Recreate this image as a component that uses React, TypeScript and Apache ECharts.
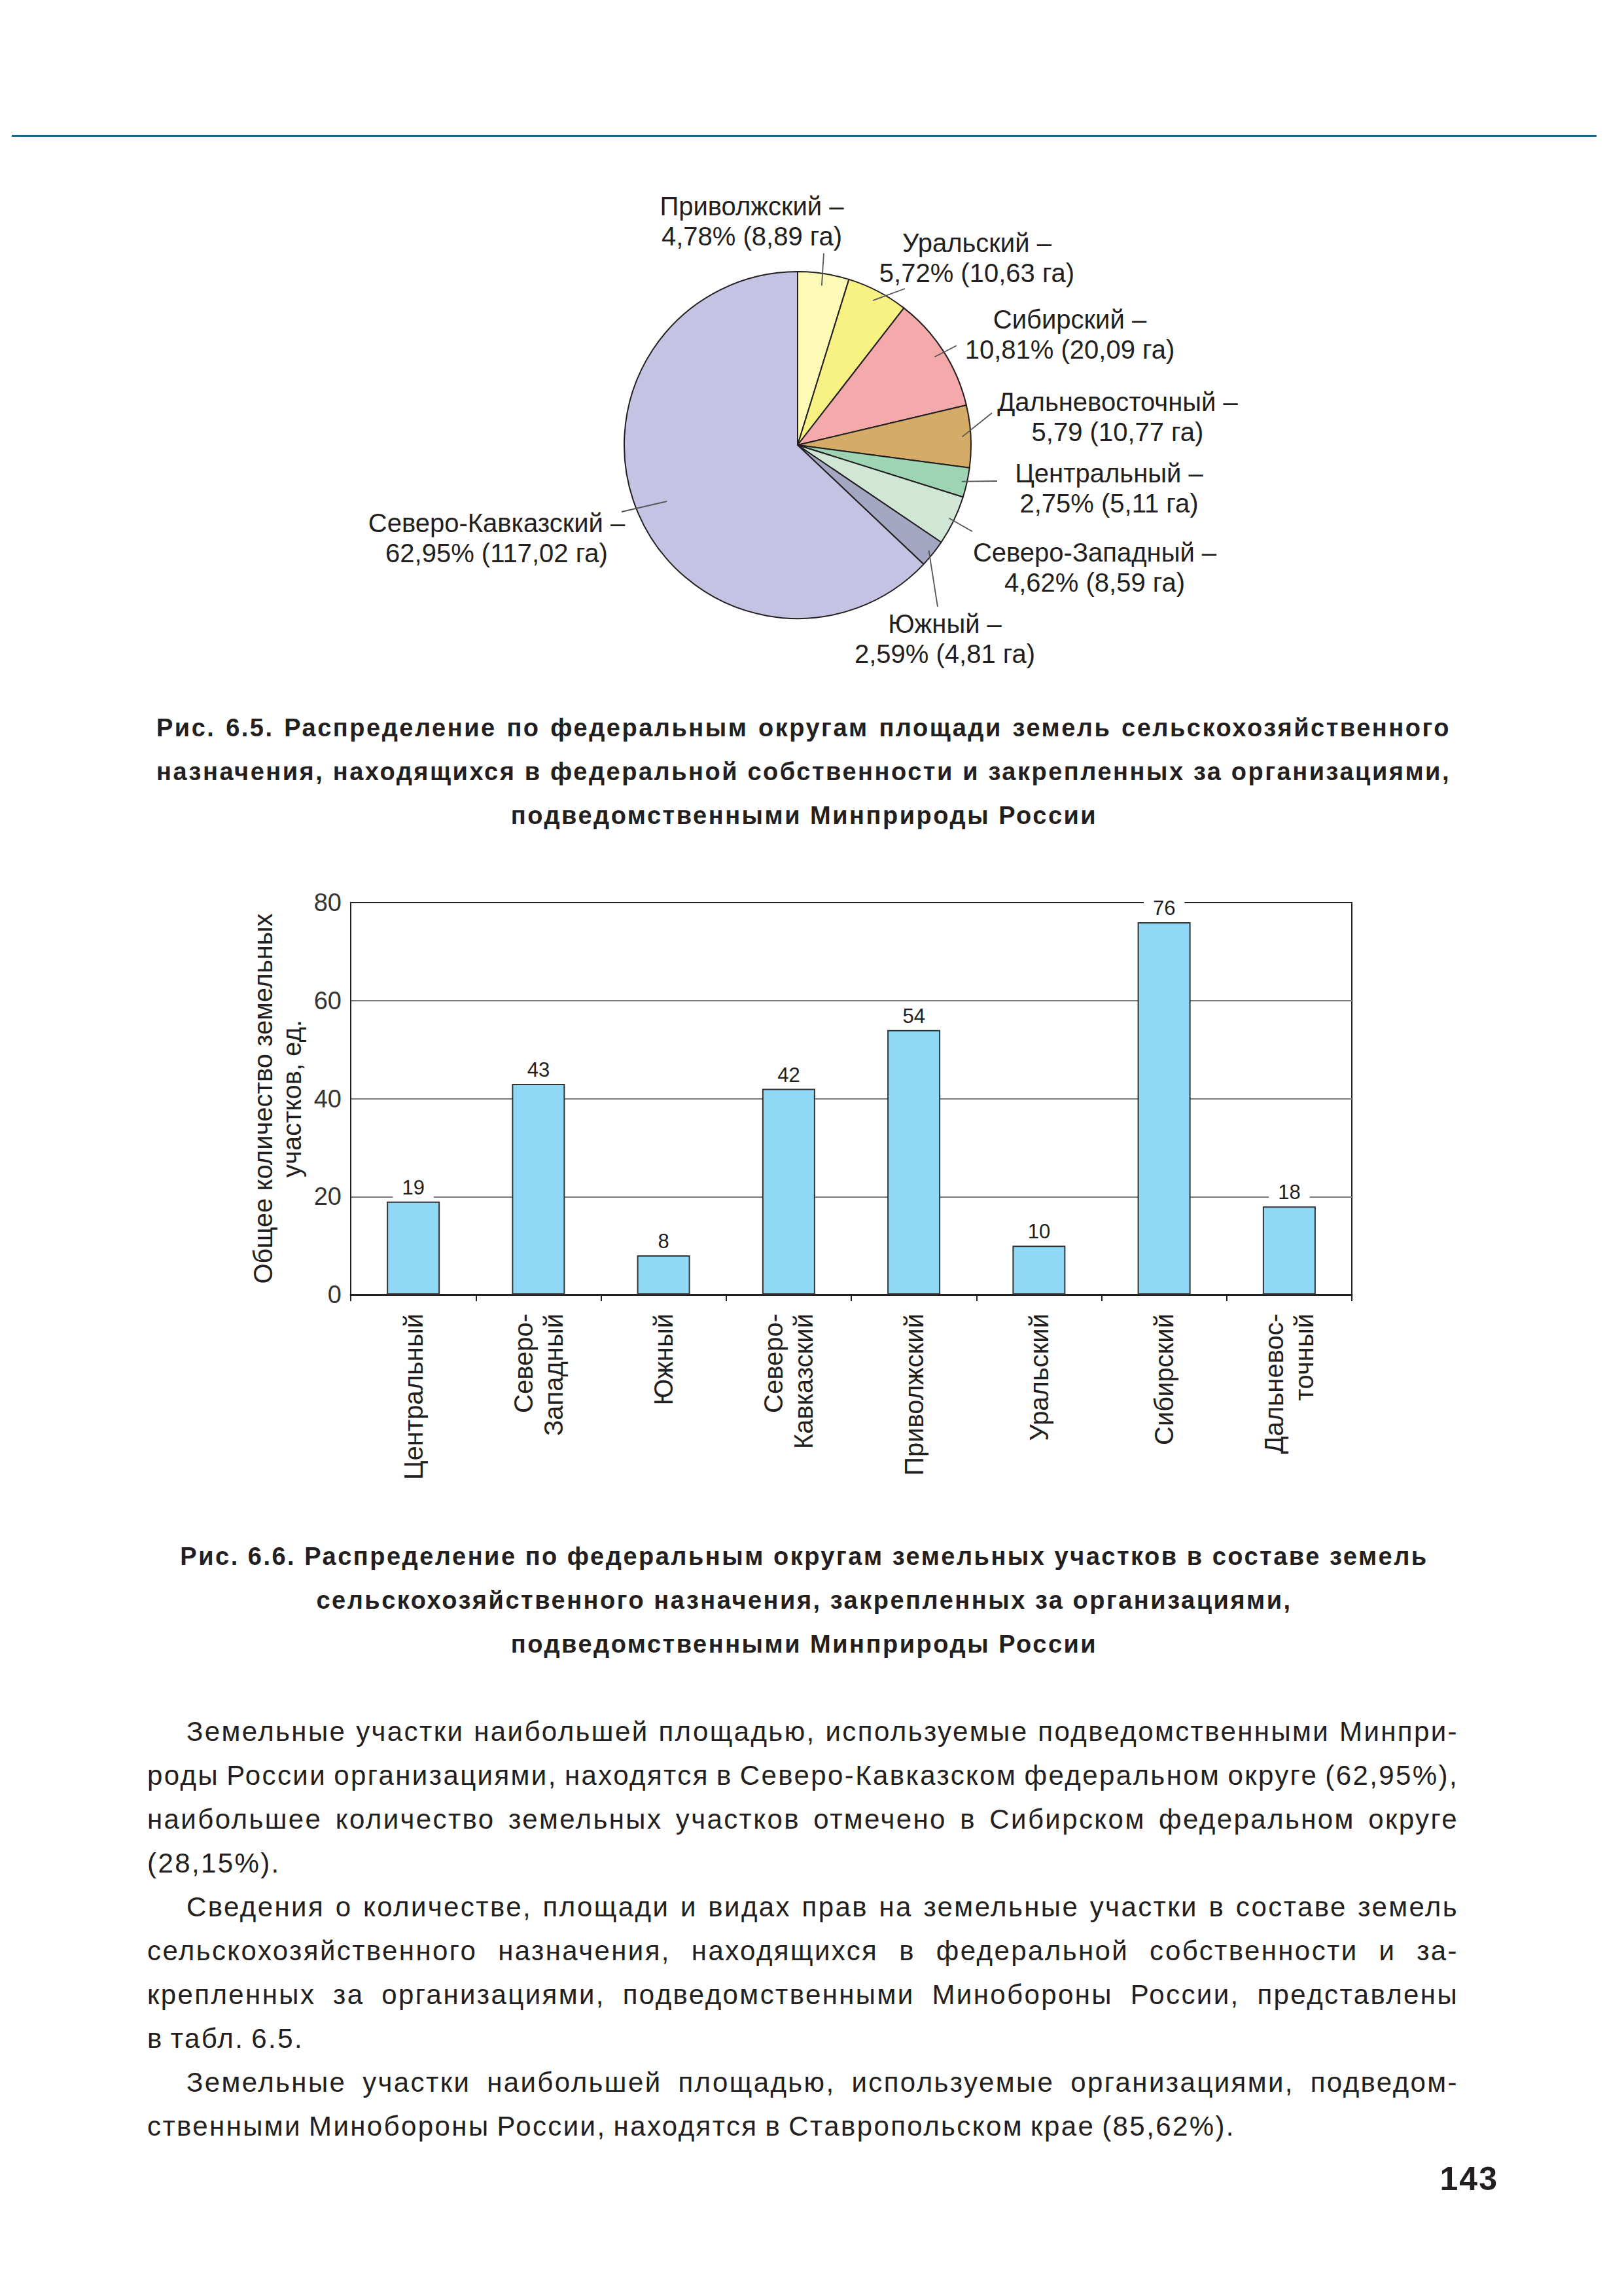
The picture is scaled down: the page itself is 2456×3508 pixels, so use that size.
import React, { useEffect, useRef } from "react";
import * as echarts from "echarts";

// ---------- Pie data (Рис. 6.5) ----------
const pieNames = [
  "Приволжский",
  "Уральский",
  "Сибирский",
  "Дальневосточный",
  "Центральный",
  "Северо-Западный",
  "Южный",
  "Северо-Кавказский",
];
const pieAreas = [8.89, 10.63, 20.09, 10.77, 5.11, 8.59, 4.81, 117.02];
const piePercents = ["4,78%", "5,72%", "10,81%", "5,79", "2,75%", "4,62%", "2,59%", "62,95%"];
const pieColors = [
  "#fdf9b6",
  "#f8f283",
  "#f4aaab",
  "#d4ab67",
  "#9dd4b3",
  "#d0e7d6",
  "#a3a7c2",
  "#c4c3e3",
];

// ---------- Bar data (Рис. 6.6) ----------
const barCategories = [
  "Центральный",
  "Северо-\nЗападный",
  "Южный",
  "Северо-\nКавказский",
  "Приволжский",
  "Уральский",
  "Сибирский",
  "Дальневос-\nточный",
];
const barValues = [19, 43, 8, 42, 54, 10, 76, 18];
const yTicks = { min: 0, max: 80, interval: 20 };

// ---------- Layout (positions only) ----------
const PIE_CX = 1219;
const PIE_CY = 680;
const PIE_R = 265;
const pieLabelPos = [
  [1149, 338],
  [1493, 394],
  [1635, 511],
  [1708, 637],
  [1695, 746],
  [1673, 867],
  [1444, 976],
  [759, 822],
];
const leaderStartRatio = [0.93, 0.94, 0.94, 0.95, 0.97, 0.97, 0.97, 0.82];
const leaderEnd = [
  [1259, 387],
  [1383, 441],
  [1462, 528],
  [1516, 631],
  [1524, 735],
  [1486, 812],
  [1433, 927],
  [950, 782],
];

const FONT = '"Liberation Sans", Arial, Helvetica, sans-serif';
const INK = "#231f20";

const caption1 = [
  "Рис. 6.5. Распределение по федеральным округам площади земель сельскохозяйственного",
  "назначения, находящихся в федеральной собственности и закрепленных за организациями,",
  "подведомственными Минприроды России",
];
const caption2 = [
  "Рис. 6.6. Распределение по федеральным округам земельных участков в составе земель",
  "сельскохозяйственного назначения, закрепленных за организациями,",
  "подведомственными Минприроды России",
];
// [text, indent, justify]
const bodyLines: [string, boolean, boolean][] = [
  ["Земельные участки наибольшей площадью, используемые подведомственными Минпри-", true, true],
  ["роды России организациями, находятся в Северо-Кавказском федеральном округе (62,95%),", false, true],
  ["наибольшее количество земельных участков отмечено в Сибирском федеральном округе", false, true],
  ["(28,15%).", false, false],
  ["Сведения о количестве, площади и видах прав на земельные участки в составе земель", true, true],
  ["сельскохозяйственного назначения, находящихся в федеральной собственности и за-", false, true],
  ["крепленных за организациями, подведомственными Минобороны России, представлены", false, true],
  ["в табл. 6.5.", false, false],
  ["Земельные участки наибольшей площадью, используемые организациями, подведом-", true, true],
  ["ственными Минобороны России, находятся в Ставропольском крае (85,62%).", false, false],
];

function fmt(v: number) {
  return v.toFixed(2).replace(".", ",");
}

export default function App() {
  const ref = useRef<HTMLDivElement>(null);

  useEffect(() => {
    if (!ref.current) return;
    const chart = echarts.init(ref.current, null, { renderer: "svg" });

    const total = pieAreas.reduce((a, b) => a + b, 0);
    let cum = 0;
    const graphics: any[] = [];
    // top blue rule
    graphics.push({
      type: "rect",
      shape: { x: 18, y: 206, width: 2422, height: 3 },
      style: { fill: "#0b6494" },
      silent: true,
    });
    pieAreas.forEach((v, i) => {
      const mid = (cum + v / 2) / total;
      cum += v;
      const ang = mid * Math.PI * 2;
      const r = PIE_R * leaderStartRatio[i];
      const sx = PIE_CX + r * Math.sin(ang);
      const sy = PIE_CY - r * Math.cos(ang);
      graphics.push({
        type: "line",
        z: 10,
        shape: { x1: sx, y1: sy, x2: leaderEnd[i][0], y2: leaderEnd[i][1] },
        style: { stroke: "#555", lineWidth: 1.8 },
        silent: true,
      });
      graphics.push({
        type: "text",
        z: 10,
        x: pieLabelPos[i][0],
        y: pieLabelPos[i][1],
        style: {
          text: `${pieNames[i]} –\n${piePercents[i]} (${fmt(v)} га)`,
          textAlign: "center",
          textVerticalAlign: "middle",
          fontFamily: FONT,
          fontSize: 40,
          lineHeight: 46,
          fill: INK,
        },
        silent: true,
      });
    });

    const option: any = {
      animation: false,
      backgroundColor: "transparent",
      graphic: graphics,
      grid: {
        left: 536,
        top: 1379,
        width: 1530,
        height: 599,
        show: true,
        borderColor: INK,
        borderWidth: 2,
        backgroundColor: "transparent",
      },
      xAxis: {
        type: "category",
        data: barCategories,
        axisLine: { show: true, lineStyle: { color: INK, width: 3 } },
        axisTick: { show: true, length: 10, lineStyle: { color: INK, width: 2 } },
        axisLabel: {
          rotate: 90,
          interval: 0,
          margin: 29,
          fontFamily: FONT,
          fontSize: 40,
          lineHeight: 46,
          color: INK,
        },
        splitLine: { show: false },
      },
      yAxis: {
        type: "value",
        min: yTicks.min,
        max: yTicks.max,
        interval: yTicks.interval,
        axisLine: { show: true, lineStyle: { color: INK, width: 2 } },
        axisTick: { show: false },
        axisLabel: { fontFamily: FONT, fontSize: 38, color: "#333", margin: 14 },
        splitLine: {
          show: true,
          showMaxLine: false,
          lineStyle: { color: "#7a7a7a", width: 2 },
        },
        name: "Общее количество земельных\nучастков, ед.",
        nameLocation: "middle",
        nameGap: 68,
        nameTextStyle: { fontFamily: FONT, fontSize: 40, lineHeight: 44, color: INK },
      },
      series: [
        {
          type: "pie",
          center: [PIE_CX, PIE_CY],
          radius: PIE_R,
          startAngle: 90,
          clockwise: true,
          silent: true,
          label: { show: false },
          labelLine: { show: false },
          itemStyle: { borderColor: INK, borderWidth: 2 },
          data: pieNames.map((n, i) => ({
            name: n,
            value: pieAreas[i],
            itemStyle: { color: pieColors[i] },
          })),
        },
        {
          type: "bar",
          data: barValues,
          barWidth: 81,
          silent: true,
          itemStyle: { color: "#8fd9f6", borderColor: "#333", borderWidth: 2 },
          label: {
            show: true,
            position: "top",
            distance: 4,
            fontFamily: FONT,
            fontSize: 31,
            color: INK,
            backgroundColor: "#fff",
            padding: [2, 14],
          },
        },
      ],
    };
    chart.setOption(option);
    return () => chart.dispose();
  }, []);

  const capStyle = (cy: number): React.CSSProperties => ({
    position: "absolute",
    top: cy - 25,
    height: 50,
    lineHeight: "50px",
    fontSize: 38,
    fontWeight: 700,
    letterSpacing: 2.5,
    whiteSpace: "nowrap",
  });

  return (
    <div
      style={{
        position: "absolute",
        left: 0,
        top: 0,
        width: 2456,
        height: 3508,
        background: "#fff",
        fontFamily: FONT,
        color: INK,
        overflow: "hidden",
      }}
    >
      <div ref={ref} style={{ position: "absolute", left: 0, top: 0, width: 2456, height: 3508 }} />

      {/* Caption 6.5 */}
      <div style={{ ...capStyle(1112), left: 239, width: 1978, textAlign: "justify", textAlignLast: "justify" }}>
        {caption1[0]}
      </div>
      <div style={{ ...capStyle(1179), left: 239, width: 1978, textAlign: "justify", textAlignLast: "justify" }}>
        {caption1[1]}
      </div>
      <div style={{ ...capStyle(1246), left: 0, width: 2458, textAlign: "center" }}>{caption1[2]}</div>

      {/* Caption 6.6 */}
      <div style={{ ...capStyle(2378), left: 0, width: 2458, textAlign: "center" }}>{caption2[0]}</div>
      <div style={{ ...capStyle(2445), left: 0, width: 2458, textAlign: "center" }}>{caption2[1]}</div>
      <div style={{ ...capStyle(2512), left: 0, width: 2458, textAlign: "center" }}>{caption2[2]}</div>

      {/* Body text */}
      {bodyLines.map(([t, indent, just], i) => (
        <div
          key={i}
          style={{
            position: "absolute",
            left: indent ? 285 : 225,
            width: indent ? 1944 : 2004,
            top: 2646 + i * 67 - 28,
            height: 56,
            lineHeight: "56px",
            fontSize: 42,
            letterSpacing: 2.4,
            wordSpacing: just ? -8 : -3,
            whiteSpace: "nowrap",
            textAlign: just ? "justify" : "left",
            textAlignLast: just ? "justify" : "left",
          }}
        >
          {t}
        </div>
      ))}

      {/* Page number */}
      <div
        style={{
          position: "absolute",
          left: 2100,
          width: 2290 - 2100,
          top: 3329 - 30,
          height: 60,
          lineHeight: "60px",
          fontSize: 50,
          fontWeight: 700,
          letterSpacing: 2,
          textAlign: "right",
        }}
      >
        143
      </div>
    </div>
  );
}
